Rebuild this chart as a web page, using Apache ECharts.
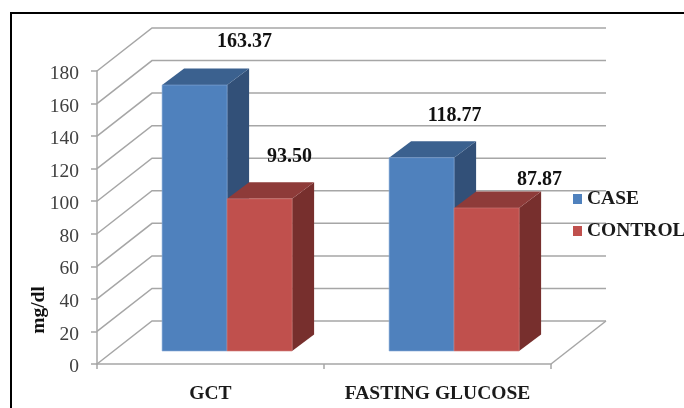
<!DOCTYPE html>
<html>
<head>
<meta charset="utf-8">
<style>html,body{margin:0;padding:0;background:#fff}#c{width:684px;height:408px}</style>
<script src="https://cdn.jsdelivr.net/npm/echarts@6/dist/echarts.min.js"></script>
</head>
<body>
<div id="c"></div>
<script>
const categories = ['GCT', 'FASTING GLUCOSE'];
const caseValues = [163.37, 118.77];
const controlValues = [93.50, 87.87];
const yTicks = [0, 20, 40, 60, 80, 100, 120, 140, 160, 180];
const seriesNames = ['CASE', 'CONTROL'];

// Layout of the pseudo-3D look (pixels)
const WALL_DX = 55, WALL_DY = -43;
const BAR_SHIFT_X = 16.6, BAR_SHIFT_Y = -13;
const BAR_DX = 22, BAR_DY = -16.5;
const BAR_WIDTH_FRAC = 65 / 227;
const GRID_COLOR = '#a6a6a6';
const SERIF = '"Liberation Serif", serif';
const labelShift = {
  CASE: [[50, -43], [33, -42]],
  CONTROL: [[30, -42], [53, -28]]
};
const faces = {
  CASE: { front: '#4f81bd', top: '#3b618f', side: '#325078', edge: '#86aad6' },
  CONTROL: { front: '#c0504d', top: '#8e3b39', side: '#772f2d', edge: '#d07c7a' }
};

function wallItem(params, api) {
  const v = api.value(0);
  const first = api.coord([0, v]);
  const band = api.size([1, 0])[0];
  const x0 = first[0] - band / 2, y = first[1];
  const pts = [[x0, y], [x0 + WALL_DX, y + WALL_DY], [x0 + 2 * band + WALL_DX, y + WALL_DY]];
  const children = [{ type: 'polyline', shape: { points: pts }, style: { stroke: GRID_COLOR, lineWidth: 1.5, fill: null } }];
  if (v === 0) {
    children.push({ type: 'line', shape: { x1: x0 + 2 * band, y1: y, x2: x0 + 2 * band + WALL_DX, y2: y + WALL_DY }, style: { stroke: GRID_COLOR, lineWidth: 1.5 } });
  }
  return { type: 'group', children };
}

function barRenderer(name, offsetSign) {
  const c = faces[name];
  return function (params, api) {
    const i = api.value(0), val = api.value(1);
    const band = api.size([1, 0])[0];
    const w = band * BAR_WIDTH_FRAC;
    const base = api.coord([i, 0]);
    const topPt = api.coord([i, val]);
    const xc = base[0] + BAR_SHIFT_X;
    const x0 = offsetSign < 0 ? xc - w : xc;
    const x1 = x0 + w;
    const yb = base[1] + BAR_SHIFT_Y;
    const yt = topPt[1] + BAR_SHIFT_Y;
    const s = labelShift[name][i];
    return {
      type: 'group',
      children: [
        { type: 'polygon', shape: { points: [[x1, yt], [x1 + BAR_DX, yt + BAR_DY], [x1 + BAR_DX, yb + BAR_DY], [x1, yb]] }, style: { fill: c.side } },
        { type: 'polygon', shape: { points: [[x0, yt], [x0 + BAR_DX, yt + BAR_DY], [x1 + BAR_DX, yt + BAR_DY], [x1, yt]] }, style: { fill: c.top } },
        { type: 'rect', shape: { x: x0, y: yt, width: w, height: yb - yt }, style: { fill: c.front, stroke: c.edge, lineWidth: 0.6 } },
        { type: 'text', style: { x: (x0 + x1) / 2 + s[0], y: yt + s[1], text: val.toFixed(2), fill: '#111', font: 'bold 20px ' + SERIF, textAlign: 'center', textVerticalAlign: 'middle' }, z2: 50 }
      ]
    };
  };
}

const chart = echarts.init(document.getElementById('c'), null, { renderer: 'canvas' });
chart.setOption({
  animation: false,
  backgroundColor: '#fff',
  tooltip: { show: false },
  grid: { left: 97, right: 133, top: 71, bottom: 44, containLabel: false },
  legend: {
    data: seriesNames,
    orient: 'vertical',
    left: 573,
    top: 189,
    padding: 0,
    itemWidth: 9,
    itemHeight: 10,
    itemGap: 12,
    icon: 'rect',
    textStyle: { fontFamily: SERIF, fontWeight: 'bold', fontSize: 19.5, color: '#1a1a1a', lineHeight: 20 }
  },
  xAxis: {
    type: 'category',
    data: categories,
    boundaryGap: true,
    axisLine: { lineStyle: { color: GRID_COLOR, width: 1.5 } },
    axisTick: { show: true, length: 5, lineStyle: { color: GRID_COLOR, width: 1.5 } },
    axisLabel: { interval: 0, margin: 20, fontFamily: SERIF, fontWeight: 'bold', fontSize: 19.5, color: '#1a1a1a' }
  },
  yAxis: {
    type: 'value',
    min: 0,
    max: 180,
    interval: 20,
    splitLine: { show: false },
    axisLine: { show: true, lineStyle: { color: GRID_COLOR, width: 1.5 } },
    axisTick: { show: true, length: 6, lineStyle: { color: GRID_COLOR, width: 1.5 } },
    axisLabel: { margin: 18, verticalAlign: 'top', lineHeight: 6, fontFamily: SERIF, fontSize: 19.5, color: '#404040' }
  },
  graphic: [
    { type: 'polyline', shape: { points: [[11, 408], [11, 13], [684, 13]] }, style: { stroke: '#000', lineWidth: 2, fill: null }, silent: true },
    { type: 'text', x: 39, y: 310, rotation: Math.PI / 2, style: { text: 'mg/dl', font: 'bold 19.5px ' + SERIF, fill: '#111', textAlign: 'center', textVerticalAlign: 'middle' }, silent: true }
  ],
  series: [
    { type: 'custom', name: 'walls', silent: true, z: 1, renderItem: wallItem, encode: { y: 0 }, data: yTicks.map(v => [v]) },
    { type: 'custom', name: seriesNames[0], z: 2, itemStyle: { color: faces.CASE.front }, renderItem: barRenderer('CASE', -1), encode: { x: 0, y: 1 }, data: caseValues.map((v, i) => [i, v]) },
    { type: 'custom', name: seriesNames[1], z: 3, itemStyle: { color: faces.CONTROL.front }, renderItem: barRenderer('CONTROL', 1), encode: { x: 0, y: 1 }, data: controlValues.map((v, i) => [i, v]) }
  ]
});
</script>
</body>
</html>
